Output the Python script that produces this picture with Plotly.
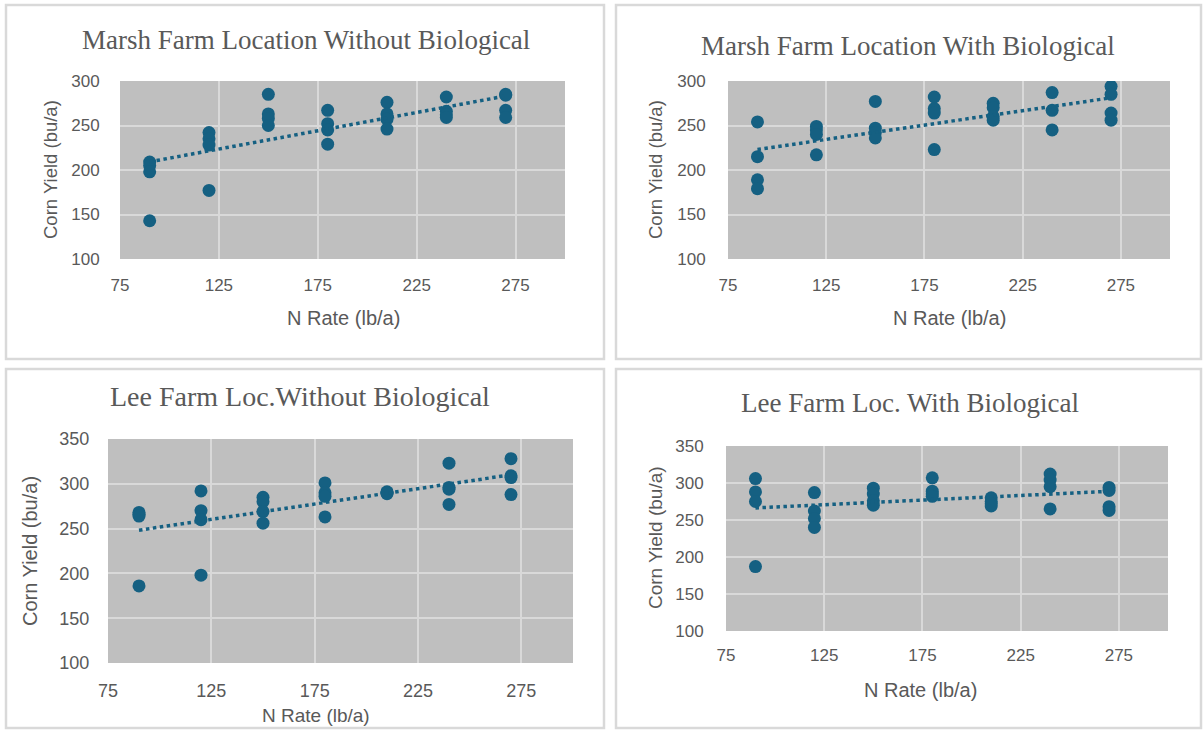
import numpy as np
import plotly.graph_objects as go

# N rate (lb/a) and corn yield (bu/a) for each location / treatment
rates = [90, 120, 150, 180, 210, 240, 270]

marsh_wo_x = [90]*4 + [120]*4 + [150]*4 + [180]*4 + [210]*4 + [240]*4 + [270]*4
marsh_wo_y = [209, 205, 198, 143,
              242, 235, 228, 177,
              285, 263, 258, 250,
              267, 252, 245, 229,
              276, 263, 257, 246,
              282, 266, 262, 259,
              285, 284, 267, 259]

marsh_w_x = [90]*4 + [120]*4 + [150]*4 + [180]*4 + [210]*4 + [240]*3 + [270]*4
marsh_w_y = [254, 215, 189, 179,
             249, 245, 240, 217,
             277, 247, 242, 236,
             282, 269, 264, 223,
             275, 270, 260, 256,
             287, 267, 245,
             294, 285, 264, 256]

lee_wo_x = [90]*4 + [120]*4 + [150]*4 + [180]*4 + [210]*4 + [240]*4 + [270]*4
lee_wo_y = [268, 266, 264, 186,
            292, 270, 260, 198,
            285, 280, 269, 256,
            301, 290, 286, 263,
            291, 290, 290, 289,
            323, 296, 294, 277,
            328, 309, 307, 288]

lee_w_x = [90]*4 + [120]*4 + [150]*4 + [180]*4 + [210]*4 + [240]*4 + [270]*4
lee_w_y = [306, 288, 275, 187,
           287, 262, 252, 240,
           293, 285, 276, 270,
           307, 289, 285, 282,
           280, 275, 272, 269,
           312, 304, 295, 265,
           294, 290, 268, 263]

titles = ["Marsh Farm Location Without Biological",
          "Marsh Farm Location With Biological",
          "Lee Farm Loc.Without Biological",
          "Lee Farm Loc. With Biological"]

x_ticks = [75, 125, 175, 225, 275]
y_ticks_marsh = [100, 150, 200, 250, 300]
y_ticks_lee = [100, 150, 200, 250, 300, 350]

W, H = 1203, 730
DOT = "#156082"
TXT = "#595959"
PLOT_BG = "#BFBFBF"
GRID = "#D9D9D9"


def px_x(p):
    return p / W


def px_y(p):
    return 1 - p / H


# panel layouts in pixels: plot box, title, axis-title positions, panel frame
panels = [
    dict(x=marsh_wo_x, y=marsh_wo_y, yt=y_ticks_marsh, yr=[100, 300],
         box=(120, 565, 81, 259), title=(306, 40), xt=(343, 318), ytl=(50, 170),
         frame=(6, 604, 5, 359), tsize=27, tick=17, xl=11, yl=16, xts=20, yts=18.5),
    dict(x=marsh_w_x, y=marsh_w_y, yt=y_ticks_marsh, yr=[100, 300],
         box=(728, 1170, 81, 259), title=(908, 46), xt=(949, 318), ytl=(655, 170),
         frame=(616, 1201, 5, 359), tsize=27, tick=17, xl=11, yl=18, xts=20, yts=18.5),
    dict(x=lee_wo_x, y=lee_wo_y, yt=y_ticks_lee, yr=[100, 350],
         box=(108, 573, 439, 663), title=(300, 396), xt=(316, 715), ytl=(30, 551),
         frame=(6, 604, 369, 728), tsize=28, tick=18, xl=11, yl=14, xts=19, yts=20),
    dict(x=lee_w_x, y=lee_w_y, yt=y_ticks_lee, yr=[100, 350],
         box=(726, 1168, 446, 631), title=(910, 403), xt=(921, 690), ytl=(655, 538),
         frame=(616, 1201, 369, 728), tsize=27, tick=17, xl=9, yl=18, xts=20, yts=19),
]

fig = go.Figure()
annotations = []
shapes = []

for i, p in enumerate(panels, start=1):
    xa = "x" if i == 1 else f"x{i}"
    ya = "y" if i == 1 else f"y{i}"
    x0, x1, y0, y1 = p["box"]

    # frame around each chart
    fx0, fx1, fy0, fy1 = p["frame"]
    shapes.append(dict(type="rect", xref="paper", yref="paper",
                       x0=px_x(fx0), x1=px_x(fx1), y0=px_y(fy1), y1=px_y(fy0),
                       line=dict(color="#D9D9D9", width=2.5), layer="below"))

    fig.add_trace(go.Scatter(
        x=p["x"], y=p["y"], mode="markers", xaxis=xa, yaxis=ya,
        marker=dict(size=13, color=DOT), showlegend=False, hoverinfo="x+y"))

    # linear trendline
    slope, intercept = np.polyfit(p["x"], p["y"], 1)
    tx = np.array([min(rates), max(rates)])
    fig.add_trace(go.Scatter(
        x=tx, y=slope * tx + intercept, mode="lines", xaxis=xa, yaxis=ya,
        line=dict(color=DOT, width=3.5, dash="dot"), showlegend=False,
        hoverinfo="skip"))

    axis_common = dict(showgrid=True, gridcolor=GRID, gridwidth=2,
                       zeroline=False, showline=False, automargin=False,
                       tickfont=dict(family="Liberation Sans", size=p["tick"], color=TXT),
                       ticks="outside", tickcolor="rgba(0,0,0,0)")
    fig.layout[f"xaxis{'' if i == 1 else i}"] = dict(
        domain=[px_x(x0), px_x(x1)], anchor=ya, range=[75, 300],
        tickvals=x_ticks, ticklen=p["xl"], **axis_common)
    fig.layout[f"yaxis{'' if i == 1 else i}"] = dict(
        domain=[px_y(y1), px_y(y0)], anchor=xa, range=p["yr"],
        tickvals=p["yt"], ticklen=p["yl"], **axis_common)

    # chart title
    annotations.append(dict(text=titles[i - 1], xref="paper", yref="paper",
                            x=px_x(p["title"][0]), y=px_y(p["title"][1]),
                            showarrow=False, xanchor="center", yanchor="middle",
                            font=dict(family="Liberation Serif", size=p["tsize"], color=TXT)))
    # axis titles
    annotations.append(dict(text="N Rate (lb/a)", xref="paper", yref="paper",
                            x=px_x(p["xt"][0]), y=px_y(p["xt"][1]),
                            showarrow=False, xanchor="center", yanchor="middle",
                            font=dict(family="Liberation Sans", size=p["xts"], color=TXT)))
    annotations.append(dict(text="Corn Yield (bu/a)", xref="paper", yref="paper",
                            x=px_x(p["ytl"][0]), y=px_y(p["ytl"][1]),
                            showarrow=False, xanchor="center", yanchor="middle",
                            textangle=-90,
                            font=dict(family="Liberation Sans", size=p["yts"], color=TXT)))

fig.update_layout(
    width=W, height=H,
    margin=dict(l=0, r=0, t=0, b=0, pad=0, autoexpand=False),
    paper_bgcolor="white", plot_bgcolor=PLOT_BG,
    showlegend=False,
    annotations=annotations, shapes=shapes,
)

# the figure fills the page edge to edge
fig.write_html("out.html", config={"displayModeBar": False},
               post_script="document.body.style.margin='0';")
